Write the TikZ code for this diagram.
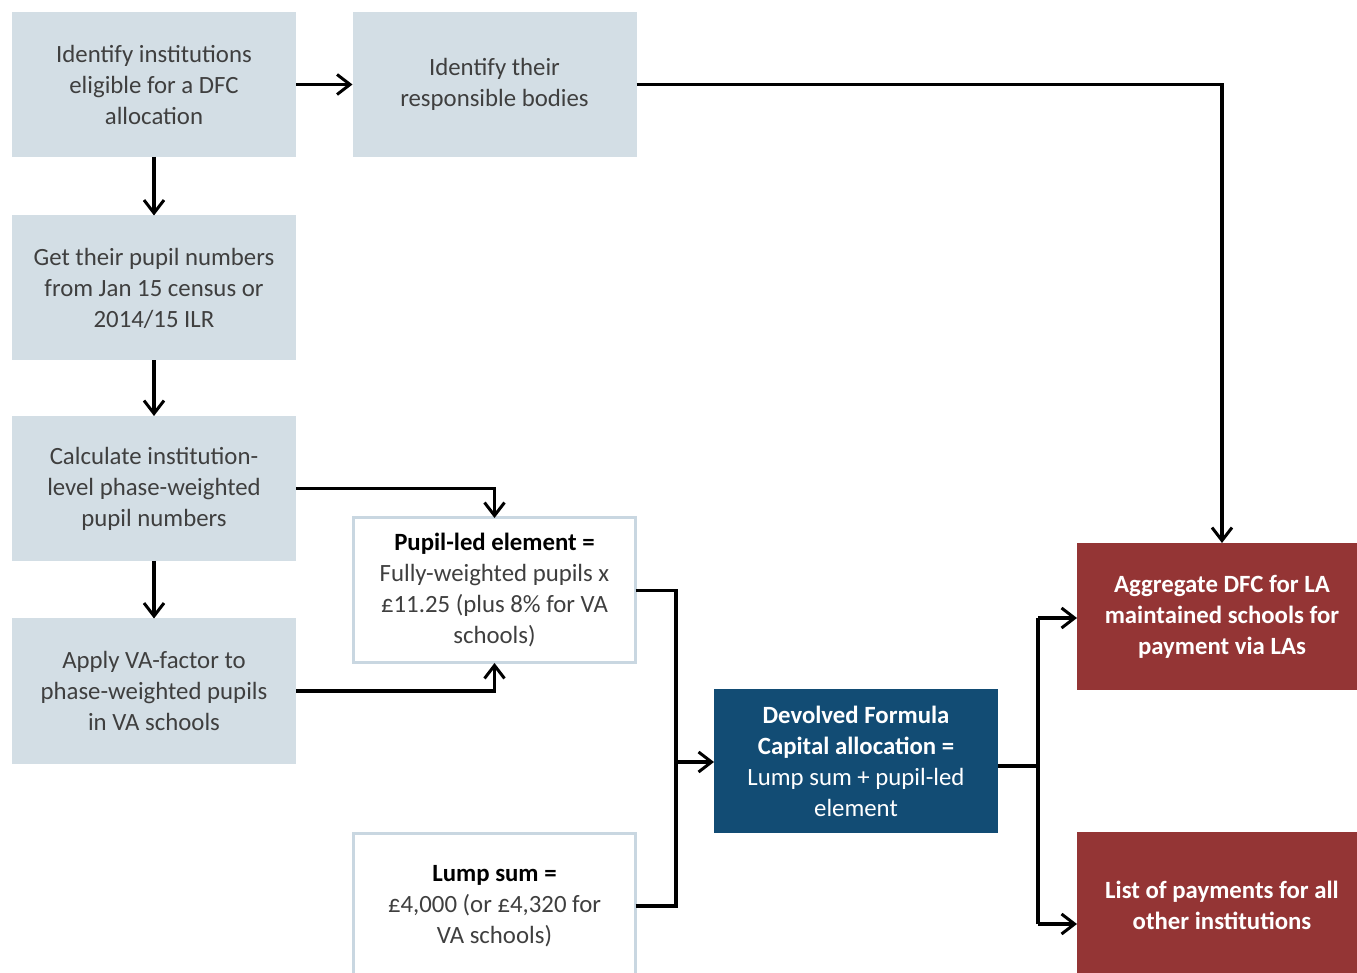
\documentclass[tikz,border=0pt]{standalone}
\usepackage{fontspec}
\setmainfont{Carlito}
\usetikzlibrary{arrows.meta}
\definecolor{lightbox}{HTML}{D3DEE5}
\definecolor{lightborder}{HTML}{C9D7E1}
\definecolor{darkblue}{HTML}{124C74}
\definecolor{darkred}{HTML}{943535}
\definecolor{boxtext}{HTML}{3F3F3F}
\tikzset{
  base/.style={inner sep=2pt, outer sep=0pt, align=center,
    font=\fontsize{12.4pt}{15.5pt}\selectfont},
  lbox/.style={base, fill=lightbox, text=boxtext, minimum width=142pt, minimum height=72.5pt},
  wbox/.style={base, fill=white, draw=lightborder, line width=1.5pt, text=boxtext, minimum width=141pt, minimum height=72.5pt},
  bbox/.style={base, fill=darkblue, text=white, minimum width=142pt, minimum height=72pt},
  rbox/.style={base, fill=darkred, text=white, minimum width=145pt, minimum height=73.5pt, font=\fontsize{12.4pt}{15.5pt}\selectfont\bfseries},
  conn/.style={line width=1.6pt, draw=black},
  arr/.style={conn, -{Straight Barb[length=6.5pt,width=10pt,line width=1.5pt]}}
}
\begin{document}
\begin{tikzpicture}[x=0.5pt,y=-0.5pt]
\useasboundingbox (0,0) rectangle (1357,973);
\node[lbox] (n1) at (154,84.5) {Identify institutions\\eligible for a DFC\\allocation};
\node[lbox] (n2) at (494.5,84.5) {Identify their\\responsible bodies};
\node[lbox] (n3) at (154,288) {Get their pupil numbers\\from Jan 15 census or\\2014/15 ILR};
\node[lbox] (n4) at (154,488.5) {Calculate institution-\\level phase-weighted\\pupil numbers};
\node[lbox] (n5) at (154,691) {Apply VA-factor to\\phase-weighted pupils\\in VA schools};
\node[wbox] (n6) at (494.5,590.5) {\textcolor{black}{\bfseries Pupil-led element =}\\Fully-weighted pupils x\\£11.25 (plus 8\% for VA\\schools)};
\node[wbox] (n7) at (494.5,906) {\textcolor{black}{\bfseries Lump sum =}\\£4,000 (or £4,320 for\\VA schools)};
\node[bbox] (n8) at (856,761) {\bfseries Devolved Formula\\\bfseries Capital allocation =\\Lump sum + pupil-led\\element};
\node[rbox] (n9) at (1222,616.5) {Aggregate DFC for LA\\maintained schools for\\payment via LAs};
\node[rbox] (n10) at (1222,905.5) {List of payments for all\\other institutions};
\coordinate (j1) at (676,762);
\coordinate (j2) at (1038,766);
\coordinate (j3) at (1038,924);
\coordinate (j4) at (1038,618);
\draw[arr] (n1.east) -- (n2.west);
\draw[arr] (n2.east) -| (n9.north);
\draw[arr] (n1.south) -- (n3.north);
\draw[arr] (n3.south) -- (n4.north);
\draw[arr] (n4.south) -- (n5.north);
\draw[arr] (n4.east) -| (n6.north);
\draw[arr] (n5.east) -| (n6.south);
\draw[conn] (n6.east) -| (j1);
\draw[conn] (n7.east) -| (j1);
\draw[arr] (j1) -- (j1 -| n8.west);
\draw[conn] (n8.east |- j2) -- (j2);
\draw[conn] (j4) -- (j3);
\draw[arr] (j4) -- (j4 -| n9.west);
\draw[arr] (j3) -- (j3 -| n10.west);
\end{tikzpicture}
\end{document}
